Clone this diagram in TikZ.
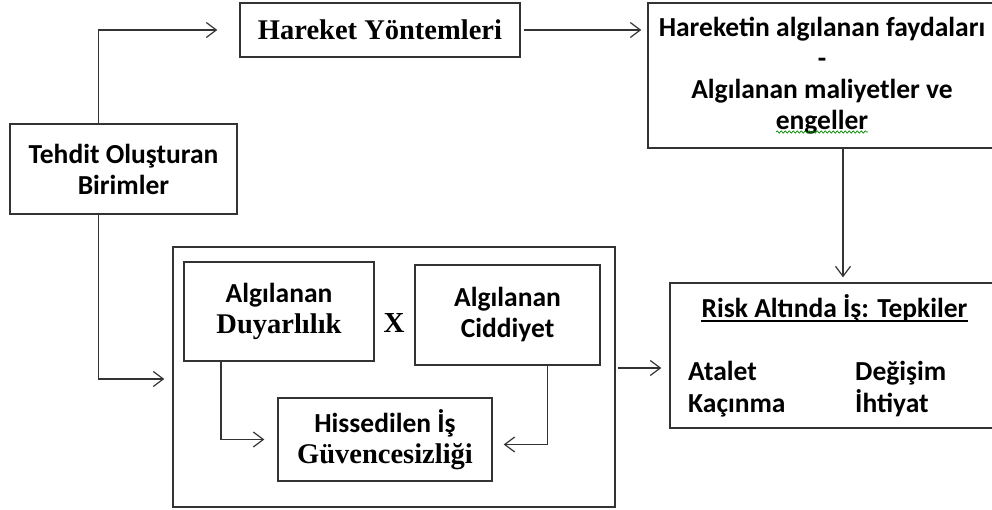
\documentclass[tikz,border=0pt]{standalone}
\usepackage{fontspec}
\setmainfont{Carlito}
\newfontfamily\tnr{Liberation Serif}
\usepackage{tikz}
\usetikzlibrary{arrows.meta,positioning,calc,decorations.pathmorphing}

\begin{document}
\begin{tikzpicture}[
    x=1pt, y=-1pt,
    >={Straight Barb[length=10pt,width=15pt]},
    box/.style={draw=black!80, line width=1.4pt, rectangle, align=center, inner sep=0pt,
        font=\fontsize{27.5}{31}\selectfont\bfseries},
    txt/.style={inner sep=0pt, font=\fontsize{27.5}{31}\selectfont\bfseries},
    connector/.style={->, line width=1.2pt, draw=black!80},
    wavy/.style={draw=green!55!black, line width=0.7pt, decorate,
        decoration={snake, amplitude=1.2pt, segment length=4pt}}
]
    \useasboundingbox (0,0) rectangle (992,510);

    \node [box, minimum width=227, minimum height=90] (tehdit) at (123.5,169)
        {Tehdit Oluşturan\\Birimler};
    \node [box, minimum width=280, minimum height=54] (hareket) at (380,30)
        {\tnr\fontsize{28.5}{31}\selectfont Hareket Yöntemleri};
    \node [box, minimum width=348, minimum height=145] (hareketin) at (822,75.5)
        {Hareketin algılanan faydaları\\-\\Algılanan maliyetler ve\\engeller};

    % inner part
    \node [box, minimum width=442, minimum height=260] (big) at (394,377) {};
    \node [box, minimum width=190, minimum height=99] (duyar) at (279,311.5)
        {Algılanan\\{\tnr\fontsize{28.5}{31}\selectfont Duyarlılık}};
    \node [box, minimum width=185, minimum height=100] (ciddi) at (507.5,315)
        {Algılanan\\Ciddiyet};
    \node [txt] (carpi) at (394,323) {\tnr\fontsize{29}{31}\selectfont X};
    \node [box, minimum width=214, minimum height=83] (hisse) at (385,439.5)
        {Hissedilen İş\\{\tnr\fontsize{28.5}{31}\selectfont Güvencesizliği}};

    % reactions
    \node [box, minimum width=326, minimum height=145] (risk) at (833,355.5) {};
    \node [txt, anchor=base] (risk_title) at (834.5,317) {Risk Altında İş: Tepkiler};
    \node [txt, anchor=base west] (atalet) at (688,380) {Atalet};
    \node [txt, anchor=base west] (kacinma) at (688,412) {Kaçınma};
    \node [txt, anchor=base west] (degisim) at (855,380) {Değişim};
    \node [txt, anchor=base west] (ihtiyat) at (855,412) {İhtiyat};
    \draw [line width=1.2pt] ($(risk_title.base west)+(0,4)$) -- ($(risk_title.base east)+(0,4)$);

    \draw [wavy] (776,132) -- (868,132);

    \coordinate (teh_top) at ($(tehdit.north)+(-25,0)$);
    \coordinate (teh_bot) at ($(tehdit.south)+(-25,0)$);
    \coordinate (risk_in) at ($(risk.north)+(10,0)$);

    \draw [connector, shorten >=22pt] (teh_top) |- (hareket.west);
    \draw [connector, shorten <=3pt, shorten >=6pt] (hareket.east) -- (hareket.east -| hareketin.west);
    \draw [connector, shorten >=5pt] (hareketin.south -| risk_in) -- (risk_in);
    \draw [connector, shorten >=8pt] (teh_bot) |- ($(big.west)+(0,2)$);
    \draw [connector, shorten <=2pt, shorten >=8pt] ($(big.east)+(0,-9)$) -- ($(big.east -| risk.west)+(0,-9)$);

    \draw [connector, shorten >=13pt] ($(duyar.south)+(-58,0)$) |- (hisse.west);
    \draw [connector, shorten >=11pt] ($(ciddi.south)+(40,0)$) |- ($(hisse.east)+(0,5)$);

\end{tikzpicture}
\end{document}
